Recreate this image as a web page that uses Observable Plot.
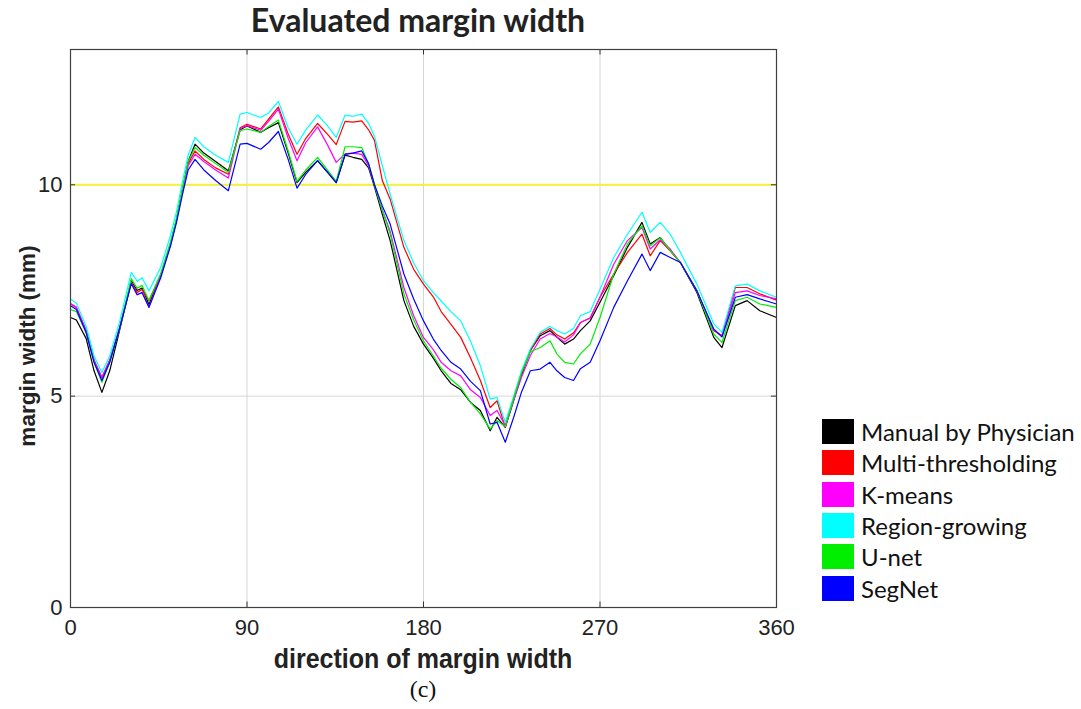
<!DOCTYPE html>
<html>
<head>
<meta charset="utf-8">
<script src="https://cdn.jsdelivr.net/npm/d3@7"></script>
<script src="https://cdn.jsdelivr.net/npm/@observablehq/plot@0.6"></script>
<style>
  body { margin: 0; background: #fff; }
  #wrap { position: relative; width: 1081px; height: 709px; overflow: hidden; }
  #title { position: absolute; left: 0; width: 836px; top: 1px; text-align: center; line-height: 38px;
           font-weight: bold; font-size: 32px; font-family: Lato, "Open Sans", sans-serif; color: #222; }
  #chart { position: absolute; left: 0; top: 42px; }
  #xlabel { position: absolute; left: 0; width: 846px; top: 644px; text-align: center; }
  #xlabel span { display: inline-block; transform: scale(1, 1.1);
            font: bold 25px "Liberation Sans", Arial, sans-serif; color: #222; }
  #ylabel { position: absolute; left: 28px; top: 346px; transform: translate(-50%, -50%) rotate(-90deg);
            white-space: nowrap; font: bold 22.5px "Liberation Sans", Arial, sans-serif; color: #222; }
  #cap { position: absolute; left: 0; width: 846px; top: 676px; text-align: center;
         font: 24px "Liberation Serif", "Times New Roman", serif; color: #111; }
  #legend { position: absolute; left: 822px; top: 416px; }
  .row { display: flex; align-items: center; height: 31.3px; }
  .sw { width: 32px; height: 25px; margin-right: 7px; flex: none; }
  .lt { font: 24px Lato, "Open Sans", sans-serif; color: #111; white-space: nowrap; }
</style>
</head>
<body>
<div id="wrap">
  <div id="title">Evaluated margin width</div>
  <div id="chart"></div>
  <div id="xlabel"><span>direction of margin width</span></div>
  <div id="ylabel">margin width (mm)</div>
  <div id="cap">(c)</div>
  <div id="legend"></div>
</div>
<script>
const angles = [
  0, 3, 8, 12, 16, 20, 25, 31, 34, 36.5,
  40, 46, 51, 54, 57, 60, 63.5, 68, 74, 80.5,
  86.5, 90, 97, 101, 106, 111, 115.5, 120, 126, 131,
  135.5, 140, 144, 148.5, 152, 155, 159, 163, 170, 175,
  180, 185, 189, 194, 199, 204, 209, 214, 217.5, 221.7,
  226, 230, 234.5, 239.5, 244.5, 248, 252, 256.5, 260, 265,
  270, 277, 284, 291.4, 295.6, 300.7, 305.8, 311, 319.4, 328,
  332.2, 339, 345, 351.5, 360
];
const manual = [
  6.86, 6.8, 6.36, 5.6, 5.09, 5.6, 6.55, 7.73, 7.5, 7.56,
  7.17, 7.85, 8.6, 9.15, 9.85, 10.55, 10.96, 10.75, 10.55, 10.33,
  11.3, 11.39, 11.24, 11.35, 11.47, 10.75, 10.05, 10.3, 10.57, 10.3,
  10.05, 10.7, 10.65, 10.6, 10.4, 9.95, 9.3, 8.68, 7.26, 6.65,
  6.23, 5.9, 5.6, 5.3, 5.15, 4.85, 4.66, 4.18, 4.5, 4.26,
  4.9, 5.5, 6.08, 6.43, 6.55, 6.4, 6.23, 6.35, 6.55, 6.78,
  7.22, 7.85, 8.52, 9.11, 8.6, 8.75, 8.44, 8.16, 7.45, 6.39,
  6.15, 7.14, 7.26, 7.02, 6.86
];
const multiThresholding = [
  7.18, 7.1, 6.55, 5.85, 5.44, 5.85, 6.6, 7.69, 7.45, 7.52,
  7.26, 7.85, 8.6, 9.15, 9.85, 10.5, 10.8, 10.6, 10.4, 10.25,
  11.35, 11.43, 11.32, 11.55, 11.84, 11.2, 10.72, 11.1, 11.45, 11.2,
  10.95, 11.5, 11.48, 11.51, 11.3, 11.05, 10.1, 9.66, 8.52, 8.0,
  7.65, 7.35, 7.0, 6.7, 6.39, 5.9, 5.37, 4.73, 4.89, 4.26,
  4.95, 5.55, 6.08, 6.47, 6.6, 6.45, 6.35, 6.5, 6.74, 6.85,
  7.34, 7.89, 8.4, 8.83, 8.32, 8.68, 8.44, 8.16, 7.49, 6.55,
  6.43, 7.57, 7.57, 7.42, 7.27
];
const kMeans = [
  7.19, 7.1, 6.55, 5.85, 5.44, 5.85, 6.6, 7.69, 7.4, 7.45,
  7.1, 7.85, 8.6, 9.15, 9.85, 10.45, 10.72, 10.55, 10.35, 10.16,
  11.33, 11.4, 11.29, 11.5, 11.79, 11.1, 10.57, 11.0, 11.37, 10.95,
  10.53, 10.73, 10.75, 10.72, 10.45, 10.0, 9.4, 8.9, 7.57, 6.9,
  6.39, 6.1, 5.8, 5.6, 5.48, 5.15, 4.97, 4.54, 4.66, 4.3,
  4.9, 5.45, 5.96, 6.35, 6.48, 6.4, 6.28, 6.45, 6.74, 6.85,
  7.34, 8.12, 8.68, 8.99, 8.48, 8.7, 8.48, 8.16, 7.49, 6.55,
  6.43, 7.45, 7.49, 7.38, 7.3
];
const regionGrowing = [
  7.3, 7.2, 6.65, 5.95, 5.56, 5.95, 6.75, 7.93, 7.72, 7.8,
  7.49, 8.05, 8.8, 9.35, 10.05, 10.7, 11.12, 10.9, 10.7, 10.53,
  11.67, 11.71, 11.59, 11.7, 11.97, 11.35, 10.96, 11.3, 11.65, 11.4,
  11.12, 11.65, 11.62, 11.67, 11.45, 11.15, 10.45, 9.78, 8.68, 8.15,
  7.73, 7.45, 7.25, 7.0, 6.78, 6.3, 5.72, 4.93, 4.97, 4.38,
  5.0, 5.6, 6.12, 6.51, 6.65, 6.55, 6.47, 6.6, 6.9, 7.0,
  7.53, 8.28, 8.83, 9.35, 8.87, 9.11, 8.83, 8.4, 7.65, 6.71,
  6.51, 7.61, 7.65, 7.49, 7.34
];
const uNet = [
  7.05, 7.0, 6.5, 5.8, 5.33, 5.8, 6.6, 7.78, 7.55, 7.62,
  7.26, 7.9, 8.65, 9.2, 9.9, 10.55, 10.88, 10.7, 10.5, 10.29,
  11.28, 11.32, 11.24, 11.38, 11.53, 10.8, 10.08, 10.35, 10.65, 10.35,
  10.08, 10.9, 10.9, 10.88, 10.5, 10.0, 9.4, 8.84, 7.42, 6.8,
  6.31, 5.95, 5.66, 5.4, 5.2, 4.85, 4.58, 4.22, 4.42, 4.28,
  4.95, 5.55, 6.05, 6.15, 6.31, 6.0, 5.8, 5.76, 6.0, 6.23,
  6.86, 7.89, 8.6, 9.03, 8.55, 8.75, 8.44, 8.16, 7.49, 6.47,
  6.27, 7.26, 7.34, 7.18, 7.1
];
const segNet = [
  7.14, 7.05, 6.5, 5.8, 5.37, 5.8, 6.6, 7.66, 7.4, 7.45,
  7.1, 7.8, 8.55, 9.1, 9.75, 10.35, 10.6, 10.35, 10.1, 9.86,
  10.96, 10.98, 10.84, 11.0, 11.26, 10.6, 9.92, 10.25, 10.57, 10.3,
  10.05, 10.72, 10.75, 10.8, 10.5, 10.0, 9.5, 9.07, 7.89, 7.3,
  6.78, 6.35, 6.08, 5.8, 5.64, 5.35, 5.13, 4.34, 4.38, 3.91,
  4.5, 5.1, 5.6, 5.64, 5.8, 5.6, 5.44, 5.37, 5.65, 5.8,
  6.31, 7.1, 7.73, 8.36, 7.97, 8.4, 8.28, 8.16, 7.49, 6.59,
  6.4, 7.34, 7.4, 7.3, 7.18
];
const seriesNames = ["Manual by Physician", "Multi-thresholding", "K-means", "Region-growing", "U-net", "SegNet"];
const seriesColors = ["#000000", "#ff0000", "#ff00ff", "#00ffff", "#00ee00", "#0000ff"];
const xTicks = [0, 90, 180, 270, 360];
const yTicks = [0, 5, 10];
const threshold = [10];

const seriesValues = [manual, multiThresholding, kMeans, regionGrowing, uNet, segNet];
const rows = seriesNames.flatMap((name, i) =>
  seriesValues[i].map((v, j) => ({angle: angles[j], width: v, method: name})));

const yMax = 13.2;
const tx = 0.13;   // inward tick length in y units
const ty = 2.6;    // inward tick length in x units
const tickFont = "'Liberation Sans', Arial, sans-serif";

const chart = Plot.plot({
  width: 800,
  height: 640,
  marginLeft: 70,
  marginRight: 24,
  marginTop: 7,
  marginBottom: 75,
  x: {domain: [0, 360]},
  y: {domain: [0, yMax]},
  color: {domain: seriesNames, range: seriesColors},
  marks: [
    Plot.gridX(xTicks.slice(1, -1), {stroke: "#d6d6d6", strokeOpacity: 1}),
    Plot.gridY(yTicks.slice(1), {stroke: "#d6d6d6", strokeOpacity: 1}),
    Plot.ruleY(threshold, {stroke: "#f2f23a", strokeWidth: 2}),
    Plot.line(rows, {x: "angle", y: "width", z: "method", stroke: "method", strokeWidth: 1.2}),
    Plot.ruleX(xTicks, {y1: 0, y2: tx, stroke: "#333"}),
    Plot.ruleX(xTicks, {y1: yMax - tx, y2: yMax, stroke: "#333"}),
    Plot.ruleY(yTicks, {x1: 0, x2: ty, stroke: "#333"}),
    Plot.ruleY(yTicks, {x1: 360 - ty, x2: 360, stroke: "#333"}),
    Plot.frame({stroke: "#404040", strokeWidth: 1.2}),
    Plot.axisX(xTicks, {tickSize: 0, tickPadding: 12, fontSize: 22, fill: "#222",
      fontFamily: tickFont, label: null}),
    Plot.axisY(yTicks, {tickSize: 0, tickPadding: 8, fontSize: 22, fill: "#222",
      fontFamily: tickFont, label: null})
  ]
});
document.getElementById("chart").appendChild(chart);

const legend = document.getElementById("legend");
seriesNames.forEach((name, i) => {
  const row = document.createElement("div");
  row.className = "row";
  const sw = document.createElement("div");
  sw.className = "sw";
  sw.style.background = seriesColors[i];
  const t = document.createElement("span");
  t.className = "lt";
  t.textContent = name;
  row.appendChild(sw);
  row.appendChild(t);
  legend.appendChild(row);
});
</script>
</body>
</html>
